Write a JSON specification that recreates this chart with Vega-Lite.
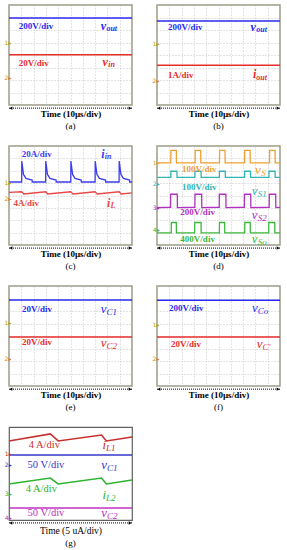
{
"$schema":"https://vega.github.io/schema/vega-lite/v6.json",
"padding":{"left":3,"top":4,"right":0,"bottom":0},
"background":"white",
"config":{
 "view":{"stroke":"#9c9c84","strokeWidth":1.5},
 "axis":{"grid":true,"gridColor":"#b8b8b8","gridDash":[1,2],"gridWidth":0.8,"labels":false,"ticks":false,"domain":false,"titleFont":"Liberation Serif","titleFontWeight":"bold","titleFontSize":9,"titleColor":"#000","titlePadding":4},
 "title":{"orient":"bottom","font":"Liberation Serif","fontSize":9,"fontWeight":"normal","color":"#000","offset":4,"anchor":"middle"}
},
"datasets":{
 "arrow":[{"x":0,"x2":10,"y":-0.25}],
 "ends":[{"x":0.15,"y":-0.25,"e":"l"},{"x":9.85,"y":-0.25,"e":"r"}],
 "tr":[
  {"p":"a","s":"vout","x":0,"y":6.96},{"p":"a","s":"vout","x":10,"y":6.96},
  {"p":"a","s":"vin","x":0,"y":4.02},{"p":"a","s":"vin","x":10,"y":4.02},
  {"p":"b","s":"vout","x":0,"y":6.72},{"p":"b","s":"vout","x":10,"y":6.72},
  {"p":"b","s":"iout","x":0,"y":3.18},{"p":"b","s":"iout","x":10,"y":3.18},
  {"p":"c","s":"iin","x":0,"y":5.09},{"p":"c","s":"iin","x":1.03,"y":5.09},{"p":"c","s":"iin","x":1.04,"y":6.79},{"p":"c","s":"iin","x":1.18,"y":5.7},{"p":"c","s":"iin","x":1.38,"y":5.38},{"p":"c","s":"iin","x":1.88,"y":5.25},{"p":"c","s":"iin","x":1.89,"y":5.09},
  {"p":"c","s":"iin","x":2.98,"y":5.09},{"p":"c","s":"iin","x":2.99,"y":6.79},{"p":"c","s":"iin","x":3.13,"y":5.7},{"p":"c","s":"iin","x":3.33,"y":5.38},{"p":"c","s":"iin","x":3.83,"y":5.25},{"p":"c","s":"iin","x":3.84,"y":5.09},
  {"p":"c","s":"iin","x":5.02,"y":5.09},{"p":"c","s":"iin","x":5.03,"y":6.79},{"p":"c","s":"iin","x":5.17,"y":5.7},{"p":"c","s":"iin","x":5.37,"y":5.38},{"p":"c","s":"iin","x":5.87,"y":5.25},{"p":"c","s":"iin","x":5.88,"y":5.09},
  {"p":"c","s":"iin","x":7.0,"y":5.09},{"p":"c","s":"iin","x":7.01,"y":6.79},{"p":"c","s":"iin","x":7.15,"y":5.7},{"p":"c","s":"iin","x":7.35,"y":5.38},{"p":"c","s":"iin","x":7.85,"y":5.25},{"p":"c","s":"iin","x":7.86,"y":5.09},
  {"p":"c","s":"iin","x":8.95,"y":5.09},{"p":"c","s":"iin","x":8.96,"y":6.79},{"p":"c","s":"iin","x":9.1,"y":5.7},{"p":"c","s":"iin","x":9.3,"y":5.38},{"p":"c","s":"iin","x":9.8,"y":5.25},{"p":"c","s":"iin","x":9.81,"y":5.09},{"p":"c","s":"iin","x":10,"y":5.09},
  {"p":"c","s":"iL","x":0,"y":4.25},{"p":"c","s":"iL","x":1.03,"y":4.3},{"p":"c","s":"iL","x":1.2,"y":4.12},{"p":"c","s":"iL","x":2.98,"y":4.3},{"p":"c","s":"iL","x":3.15,"y":4.12},{"p":"c","s":"iL","x":5.02,"y":4.3},{"p":"c","s":"iL","x":5.2,"y":4.12},{"p":"c","s":"iL","x":7.0,"y":4.3},{"p":"c","s":"iL","x":7.17,"y":4.12},{"p":"c","s":"iL","x":8.95,"y":4.3},{"p":"c","s":"iL","x":9.12,"y":4.12},{"p":"c","s":"iL","x":10,"y":4.22},
  {"p":"d","s":"vS","x":0,"y":6.64},{"p":"d","s":"vS","x":1.12,"y":6.64},{"p":"d","s":"vS","x":1.13,"y":7.65},{"p":"d","s":"vS","x":1.57,"y":7.65},{"p":"d","s":"vS","x":1.58,"y":6.64},{"p":"d","s":"vS","x":3.1,"y":6.64},{"p":"d","s":"vS","x":3.11,"y":7.65},{"p":"d","s":"vS","x":3.55,"y":7.65},{"p":"d","s":"vS","x":3.56,"y":6.64},{"p":"d","s":"vS","x":5.08,"y":6.64},{"p":"d","s":"vS","x":5.09,"y":7.65},{"p":"d","s":"vS","x":5.53,"y":7.65},{"p":"d","s":"vS","x":5.54,"y":6.64},{"p":"d","s":"vS","x":7.12,"y":6.64},{"p":"d","s":"vS","x":7.13,"y":7.65},{"p":"d","s":"vS","x":7.57,"y":7.65},{"p":"d","s":"vS","x":7.58,"y":6.64},{"p":"d","s":"vS","x":9.15,"y":6.64},{"p":"d","s":"vS","x":9.16,"y":7.65},{"p":"d","s":"vS","x":9.6,"y":7.65},{"p":"d","s":"vS","x":9.61,"y":6.64},{"p":"d","s":"vS","x":10,"y":6.64},
  {"p":"d","s":"vS1","x":0,"y":5.47},{"p":"d","s":"vS1","x":1.12,"y":5.47},{"p":"d","s":"vS1","x":1.13,"y":5.96},{"p":"d","s":"vS1","x":1.62,"y":5.96},{"p":"d","s":"vS1","x":1.63,"y":5.47},{"p":"d","s":"vS1","x":3.08,"y":5.47},{"p":"d","s":"vS1","x":3.09,"y":5.96},{"p":"d","s":"vS1","x":3.58,"y":5.96},{"p":"d","s":"vS1","x":3.59,"y":5.47},{"p":"d","s":"vS1","x":5.07,"y":5.47},{"p":"d","s":"vS1","x":5.08,"y":5.96},{"p":"d","s":"vS1","x":5.55,"y":5.96},{"p":"d","s":"vS1","x":5.56,"y":5.47},{"p":"d","s":"vS1","x":7.12,"y":5.47},{"p":"d","s":"vS1","x":7.13,"y":5.96},{"p":"d","s":"vS1","x":7.6,"y":5.96},{"p":"d","s":"vS1","x":7.61,"y":5.47},{"p":"d","s":"vS1","x":9.1,"y":5.47},{"p":"d","s":"vS1","x":9.11,"y":5.96},{"p":"d","s":"vS1","x":9.6,"y":5.96},{"p":"d","s":"vS1","x":9.61,"y":5.47},{"p":"d","s":"vS1","x":10,"y":5.47},
  {"p":"d","s":"vS2","x":0,"y":3.02},{"p":"d","s":"vS2","x":1.1,"y":3.05},{"p":"d","s":"vS2","x":1.11,"y":4.1},{"p":"d","s":"vS2","x":1.65,"y":4.1},{"p":"d","s":"vS2","x":1.66,"y":3.02},{"p":"d","s":"vS2","x":3.08,"y":3.05},{"p":"d","s":"vS2","x":3.09,"y":4.1},{"p":"d","s":"vS2","x":3.63,"y":4.1},{"p":"d","s":"vS2","x":3.64,"y":3.02},{"p":"d","s":"vS2","x":5.06,"y":3.05},{"p":"d","s":"vS2","x":5.07,"y":4.1},{"p":"d","s":"vS2","x":5.6,"y":4.1},{"p":"d","s":"vS2","x":5.61,"y":3.02},{"p":"d","s":"vS2","x":7.1,"y":3.05},{"p":"d","s":"vS2","x":7.11,"y":4.1},{"p":"d","s":"vS2","x":7.62,"y":4.1},{"p":"d","s":"vS2","x":7.63,"y":3.02},{"p":"d","s":"vS2","x":9.12,"y":3.05},{"p":"d","s":"vS2","x":9.13,"y":4.1},{"p":"d","s":"vS2","x":9.65,"y":4.1},{"p":"d","s":"vS2","x":9.66,"y":3.02},{"p":"d","s":"vS2","x":10,"y":3.04},
  {"p":"d","s":"vSo","x":0,"y":0.98},{"p":"d","s":"vSo","x":1.16,"y":0.98},{"p":"d","s":"vSo","x":1.17,"y":1.82},{"p":"d","s":"vSo","x":1.57,"y":1.82},{"p":"d","s":"vSo","x":1.58,"y":0.98},{"p":"d","s":"vSo","x":3.06,"y":0.98},{"p":"d","s":"vSo","x":3.07,"y":1.82},{"p":"d","s":"vSo","x":3.58,"y":1.82},{"p":"d","s":"vSo","x":3.59,"y":0.98},{"p":"d","s":"vSo","x":5.07,"y":0.98},{"p":"d","s":"vSo","x":5.08,"y":1.82},{"p":"d","s":"vSo","x":5.5,"y":1.82},{"p":"d","s":"vSo","x":5.51,"y":0.98},{"p":"d","s":"vSo","x":7.13,"y":0.98},{"p":"d","s":"vSo","x":7.14,"y":1.82},{"p":"d","s":"vSo","x":7.58,"y":1.82},{"p":"d","s":"vSo","x":7.59,"y":0.98},{"p":"d","s":"vSo","x":9.08,"y":0.98},{"p":"d","s":"vSo","x":9.09,"y":1.82},{"p":"d","s":"vSo","x":9.57,"y":1.82},{"p":"d","s":"vSo","x":9.58,"y":0.98},{"p":"d","s":"vSo","x":10,"y":0.98},
  {"p":"e","s":"vC1","x":0,"y":6.88},{"p":"e","s":"vC1","x":10,"y":6.88},
  {"p":"e","s":"vC2","x":0,"y":3.92},{"p":"e","s":"vC2","x":10,"y":3.92},
  {"p":"f","s":"vCo","x":0,"y":6.86},{"p":"f","s":"vCo","x":10,"y":6.86},
  {"p":"f","s":"vCp","x":0,"y":3.92},{"p":"f","s":"vCp","x":10,"y":3.92},
  {"p":"g","s":"iL1g","x":0,"y":6.8},{"p":"g","s":"iL1g","x":3.36,"y":7.4},{"p":"g","s":"iL1g","x":4.0,"y":6.8},{"p":"g","s":"iL1g","x":7.52,"y":7.31},{"p":"g","s":"iL1g","x":7.92,"y":6.8},{"p":"g","s":"iL1g","x":10,"y":7.14},
  {"p":"g","s":"vC1g","x":0,"y":5.59},{"p":"g","s":"vC1g","x":10,"y":5.59},
  {"p":"g","s":"iL2g","x":0,"y":3.1},{"p":"g","s":"iL2g","x":3.36,"y":3.61},{"p":"g","s":"iL2g","x":4.0,"y":3.1},{"p":"g","s":"iL2g","x":7.52,"y":3.61},{"p":"g","s":"iL2g","x":7.92,"y":3.1},{"p":"g","s":"iL2g","x":10,"y":3.44},
  {"p":"g","s":"vC2g","x":0,"y":1.03},{"p":"g","s":"vC2g","x":10,"y":1.03}
 ],
 "lb":[
  {"p":"a","f":"bu","k":"u","s":"vout","x":0.8,"y":6.34,"t":"200V/div"},
  {"p":"a","f":"bi","k":"s","s":"vout","x":7.45,"y":6.34,"t":"v"},
  {"p":"a","f":"bi","k":"b","s":"vout","x":7.92,"y":6.1,"t":"out"},
  {"p":"a","f":"bu","k":"u","s":"vin","x":0.8,"y":3.38,"t":"20V/div"},
  {"p":"a","f":"bi","k":"s","s":"vin","x":7.6,"y":3.45,"t":"v"},
  {"p":"a","f":"bi","k":"b","s":"vin","x":8.07,"y":3.2,"t":"in"},
  {"p":"a","f":"ru","k":"m","s":"m1","x":-0.36,"y":4.96,"t":"1▸"},
  {"p":"a","f":"ru","k":"m","s":"m2","x":-0.36,"y":2.16,"t":"2▸"},
  {"p":"b","f":"bu","k":"u","s":"vout","x":0.9,"y":6.24,"t":"200V/div"},
  {"p":"b","f":"bi","k":"s","s":"vout","x":7.6,"y":6.24,"t":"v"},
  {"p":"b","f":"bi","k":"b","s":"vout","x":8.07,"y":6.0,"t":"out"},
  {"p":"b","f":"bu","k":"u","s":"iout","x":0.9,"y":2.4,"t":"1A/div"},
  {"p":"b","f":"bi","k":"s","s":"iout","x":7.8,"y":2.45,"t":"i"},
  {"p":"b","f":"bi","k":"b","s":"iout","x":8.07,"y":2.2,"t":"out"},
  {"p":"b","f":"ru","k":"m","s":"m1","x":-0.36,"y":4.88,"t":"1▸"},
  {"p":"b","f":"ru","k":"m","s":"m2","x":-0.36,"y":1.92,"t":"2▸"},
  {"p":"c","f":"bu","k":"u","s":"iin","x":1.03,"y":7.38,"t":"20A/div"},
  {"p":"c","f":"bi","k":"s","s":"iin","x":7.5,"y":7.38,"t":"i"},
  {"p":"c","f":"bi","k":"b","s":"iin","x":7.78,"y":7.13,"t":"in"},
  {"p":"c","f":"bu","k":"u","s":"iL","x":0.36,"y":3.42,"t":"4A/div"},
  {"p":"c","f":"bi","k":"s","s":"iL","x":7.97,"y":3.42,"t":"i"},
  {"p":"c","f":"bi","k":"b","s":"iL","x":8.25,"y":3.17,"t":"L"},
  {"p":"c","f":"ru","k":"m","s":"m1","x":-0.36,"y":5.0,"t":"1▸"},
  {"p":"c","f":"ru","k":"m","s":"m2","x":-0.36,"y":3.72,"t":"2▸"},
  {"p":"d","f":"bu","k":"u","s":"vS","x":2.03,"y":6.15,"t":"100V/div"},
  {"p":"d","f":"ri","k":"S","s":"vS","x":7.97,"y":6.04,"t":"v"},
  {"p":"d","f":"ri","k":"B","s":"vS","x":8.47,"y":5.8,"t":"S"},
  {"p":"d","f":"bu","k":"u","s":"vS1","x":2.03,"y":4.65,"t":"100V/div"},
  {"p":"d","f":"ri","k":"S","s":"vS1","x":7.7,"y":4.4,"t":"v"},
  {"p":"d","f":"ri","k":"B","s":"vS1","x":8.2,"y":4.16,"t":"S1"},
  {"p":"d","f":"bu","k":"u","s":"vS2","x":1.9,"y":2.64,"t":"200V/div"},
  {"p":"d","f":"ri","k":"S","s":"vS2","x":7.7,"y":2.45,"t":"v"},
  {"p":"d","f":"ri","k":"B","s":"vS2","x":8.2,"y":2.21,"t":"S2"},
  {"p":"d","f":"bu","k":"u","s":"vSo","x":1.9,"y":0.5,"t":"400V/div"},
  {"p":"d","f":"ri","k":"S","s":"vSo","x":7.7,"y":0.45,"t":"v"},
  {"p":"d","f":"ri","k":"B","s":"vSo","x":8.2,"y":0.23,"t":"So"},
  {"p":"d","f":"ru","k":"m","s":"vS","x":-0.34,"y":6.6,"t":"1▸"},
  {"p":"d","f":"ru","k":"m","s":"vS1","x":-0.34,"y":4.9,"t":"2▸"},
  {"p":"d","f":"ru","k":"m","s":"vS2","x":-0.34,"y":3.0,"t":"3▸"},
  {"p":"d","f":"ru","k":"m","s":"vSo","x":-0.34,"y":1.2,"t":"4▸"},
  {"p":"e","f":"bu","k":"u","s":"vC1","x":1.06,"y":6.18,"t":"20V/div"},
  {"p":"e","f":"ri","k":"S","s":"vC1","x":7.45,"y":6.18,"t":"v"},
  {"p":"e","f":"ri","k":"B","s":"vC1","x":7.93,"y":5.94,"t":"C1"},
  {"p":"e","f":"bu","k":"u","s":"vC2","x":1.06,"y":3.52,"t":"20V/div"},
  {"p":"e","f":"ri","k":"S","s":"vC2","x":7.45,"y":3.46,"t":"v"},
  {"p":"e","f":"ri","k":"B","s":"vC2","x":7.93,"y":3.22,"t":"C2"},
  {"p":"e","f":"ru","k":"m","s":"m1","x":-0.36,"y":5.06,"t":"1▸"},
  {"p":"e","f":"ru","k":"m","s":"m2","x":-0.36,"y":2.16,"t":"2▸"},
  {"p":"f","f":"bu","k":"u","s":"vCo","x":0.98,"y":6.26,"t":"200V/div"},
  {"p":"f","f":"ri","k":"S","s":"vCo","x":7.72,"y":6.26,"t":"v"},
  {"p":"f","f":"ri","k":"B","s":"vCo","x":8.2,"y":6.02,"t":"Co"},
  {"p":"f","f":"bu","k":"u","s":"vCp","x":1.14,"y":3.38,"t":"20V/div"},
  {"p":"f","f":"ri","k":"S","s":"vCp","x":8.1,"y":3.38,"t":"v"},
  {"p":"f","f":"ri","k":"B","s":"vCp","x":8.58,"y":3.14,"t":"C'"},
  {"p":"f","f":"ru","k":"m","s":"m1","x":-0.36,"y":4.88,"t":"1▸"},
  {"p":"f","f":"ru","k":"m","s":"m2","x":-0.36,"y":2.16,"t":"2▸"},
  {"p":"g","f":"ru","k":"U","s":"iL1g","x":1.6,"y":6.45,"t":"4 A/div"},
  {"p":"g","f":"ri","k":"S","s":"iL1g","x":7.6,"y":6.45,"t":"i"},
  {"p":"g","f":"ri","k":"B","s":"iL1g","x":7.88,"y":6.2,"t":"L1"},
  {"p":"g","f":"ru","k":"U","s":"vC1g","x":1.5,"y":4.73,"t":"50 V/div"},
  {"p":"g","f":"ri","k":"S","s":"vC1g","x":7.5,"y":4.73,"t":"v"},
  {"p":"g","f":"ri","k":"B","s":"vC1g","x":7.97,"y":4.49,"t":"C1"},
  {"p":"g","f":"ru","k":"U","s":"iL2g","x":1.36,"y":2.64,"t":"4 A/div"},
  {"p":"g","f":"ri","k":"S","s":"iL2g","x":7.6,"y":2.15,"t":"i"},
  {"p":"g","f":"ri","k":"B","s":"iL2g","x":7.88,"y":1.9,"t":"L2"},
  {"p":"g","f":"ru","k":"U","s":"vC2g","x":1.5,"y":0.58,"t":"50 V/div"},
  {"p":"g","f":"ri","k":"S","s":"vC2g","x":7.5,"y":0.58,"t":"v"},
  {"p":"g","f":"ri","k":"B","s":"vC2g","x":7.97,"y":0.34,"t":"C2"},
  {"p":"g","f":"ru","k":"m","s":"iL1g","x":-0.34,"y":5.68,"t":"1▸"},
  {"p":"g","f":"ru","k":"m","s":"vC1g","x":-0.34,"y":4.73,"t":"2▸"},
  {"p":"g","f":"ru","k":"m","s":"iL2g","x":-0.34,"y":2.24,"t":"3▸"},
  {"p":"g","f":"ru","k":"m","s":"vC2g","x":-0.34,"y":0.17,"t":"4▸"}
 ]
},
"columns":2,
"spacing":{"row":41,"column":25},
"bounds":"flush",
"concat":[
  {"width":123,"height":100,"title":"(a)",
   "encoding":{"x":{"field":"x","type":"quantitative","scale":{"domain":[0,10]},"axis":{"values":[0,1,2,3,4,5,6,7,8,9,10],"title":"Time (10µs/div)"}},"y":{"field":"y","type":"quantitative","scale":{"domain":[0,8]},"axis":{"values":[0,1,2,3,4,5,6,7,8],"title":null}}},
   "layer":[
   {"data":{"name":"tr"},"transform":[{"filter":"datum.p=='a'"}],"mark":{"type":"line","strokeWidth":1.5},
    "encoding":{"color":{"field":"s","type":"nominal","legend":null,"scale":{"domain":["vout","vin","iout","iin","iL","vS","vS1","vS2","vSo","vC1","vC2","vCo","vCp","iL1g","vC1g","iL2g","vC2g","m1","m2"],"range":["#2a2af0","#e82c2c","#e82c2c","#3c3cf0","#e84848","#f0a030","#30b4b4","#b030c0","#3cb83c","#2a2af0","#e82c2c","#2a2af0","#e82c2c","#c8302c","#3636c8","#2eb42e","#c030c0","#b8a000","#e87820"]}}}},
   {"data":{"name":"arrow"},"mark":{"type":"rule","strokeDash":[1,1],"strokeWidth":1,"color":"#000"},"encoding":{"x2":{"field":"x2"}}},
   {"data":{"name":"ends"},"mark":{"type":"point","filled":true,"size":12,"color":"#000","opacity":1},"encoding":{"shape":{"field":"e","type":"nominal","legend":null,"scale":{"domain":["l","r"],"range":["triangle-left","triangle-right"]}}}},
   {"data":{"name":"lb"},"transform":[{"filter":"datum.p=='a' && datum.f=='bu'"}],"mark":{"type":"text","font":"Liberation Serif","fontWeight":"bold","align":"left","baseline":"middle"},"encoding":{"text":{"field":"t"},"color":{"field":"s","type":"nominal","legend":null},"size":{"field":"k","type":"nominal","legend":null,"scale":{"type":"ordinal","domain":["u","U","s","S","b","B","m"],"range":[9,10.5,12,13,8,9,6]}}}},
   {"data":{"name":"lb"},"transform":[{"filter":"datum.p=='a' && datum.f=='bi'"}],"mark":{"type":"text","font":"Liberation Serif","fontWeight":"bold","fontStyle":"italic","align":"left","baseline":"middle"},"encoding":{"text":{"field":"t"},"color":{"field":"s","type":"nominal","legend":null},"size":{"field":"k","type":"nominal","legend":null,"scale":{"type":"ordinal","domain":["u","U","s","S","b","B","m"],"range":[9,10.5,12,13,8,9,6]}}}},
   {"data":{"name":"lb"},"transform":[{"filter":"datum.p=='a' && datum.f=='ru'"}],"mark":{"type":"text","font":"DejaVu Sans","align":"left","baseline":"middle"},"encoding":{"text":{"field":"t"},"color":{"field":"s","type":"nominal","legend":null},"size":{"field":"k","type":"nominal","legend":null,"scale":{"type":"ordinal","domain":["u","U","s","S","b","B","m"],"range":[9,10.5,12,13,8,9,6]}}}}
  ]},
  {"width":123,"height":100,"title":"(b)",
   "encoding":{"x":{"field":"x","type":"quantitative","scale":{"domain":[0,10]},"axis":{"values":[0,1,2,3,4,5,6,7,8,9,10],"title":"Time (10µs/div)"}},"y":{"field":"y","type":"quantitative","scale":{"domain":[0,8]},"axis":{"values":[0,1,2,3,4,5,6,7,8],"title":null}}},
   "layer":[
   {"data":{"name":"tr"},"transform":[{"filter":"datum.p=='b'"}],"mark":{"type":"line","strokeWidth":1.5},
    "encoding":{"color":{"field":"s","type":"nominal","legend":null,"scale":{"domain":["vout","vin","iout","iin","iL","vS","vS1","vS2","vSo","vC1","vC2","vCo","vCp","iL1g","vC1g","iL2g","vC2g","m1","m2"],"range":["#2a2af0","#e82c2c","#e82c2c","#3c3cf0","#e84848","#f0a030","#30b4b4","#b030c0","#3cb83c","#2a2af0","#e82c2c","#2a2af0","#e82c2c","#c8302c","#3636c8","#2eb42e","#c030c0","#b8a000","#e87820"]}}}},
   {"data":{"name":"arrow"},"mark":{"type":"rule","strokeDash":[1,1],"strokeWidth":1,"color":"#000"},"encoding":{"x2":{"field":"x2"}}},
   {"data":{"name":"ends"},"mark":{"type":"point","filled":true,"size":12,"color":"#000","opacity":1},"encoding":{"shape":{"field":"e","type":"nominal","legend":null,"scale":{"domain":["l","r"],"range":["triangle-left","triangle-right"]}}}},
   {"data":{"name":"lb"},"transform":[{"filter":"datum.p=='b' && datum.f=='bu'"}],"mark":{"type":"text","font":"Liberation Serif","fontWeight":"bold","align":"left","baseline":"middle"},"encoding":{"text":{"field":"t"},"color":{"field":"s","type":"nominal","legend":null},"size":{"field":"k","type":"nominal","legend":null,"scale":{"type":"ordinal","domain":["u","U","s","S","b","B","m"],"range":[9,10.5,12,13,8,9,6]}}}},
   {"data":{"name":"lb"},"transform":[{"filter":"datum.p=='b' && datum.f=='bi'"}],"mark":{"type":"text","font":"Liberation Serif","fontWeight":"bold","fontStyle":"italic","align":"left","baseline":"middle"},"encoding":{"text":{"field":"t"},"color":{"field":"s","type":"nominal","legend":null},"size":{"field":"k","type":"nominal","legend":null,"scale":{"type":"ordinal","domain":["u","U","s","S","b","B","m"],"range":[9,10.5,12,13,8,9,6]}}}},
   {"data":{"name":"lb"},"transform":[{"filter":"datum.p=='b' && datum.f=='ru'"}],"mark":{"type":"text","font":"DejaVu Sans","align":"left","baseline":"middle"},"encoding":{"text":{"field":"t"},"color":{"field":"s","type":"nominal","legend":null},"size":{"field":"k","type":"nominal","legend":null,"scale":{"type":"ordinal","domain":["u","U","s","S","b","B","m"],"range":[9,10.5,12,13,8,9,6]}}}}
  ]},
  {"width":123,"height":99,"title":"(c)",
   "encoding":{"x":{"field":"x","type":"quantitative","scale":{"domain":[0,10]},"axis":{"values":[0,1,2,3,4,5,6,7,8,9,10],"title":"Time (10µs/div)"}},"y":{"field":"y","type":"quantitative","scale":{"domain":[0,8]},"axis":{"values":[0,1,2,3,4,5,6,7,8],"title":null}}},
   "layer":[
   {"data":{"name":"tr"},"transform":[{"filter":"datum.p=='c'"}],"mark":{"type":"line","strokeWidth":1.3},
    "encoding":{"color":{"field":"s","type":"nominal","legend":null,"scale":{"domain":["vout","vin","iout","iin","iL","vS","vS1","vS2","vSo","vC1","vC2","vCo","vCp","iL1g","vC1g","iL2g","vC2g","m1","m2"],"range":["#2a2af0","#e82c2c","#e82c2c","#3c3cf0","#e84848","#f0a030","#30b4b4","#b030c0","#3cb83c","#2a2af0","#e82c2c","#2a2af0","#e82c2c","#c8302c","#3636c8","#2eb42e","#c030c0","#b8a000","#e87820"]}}}},
   {"data":{"name":"arrow"},"mark":{"type":"rule","strokeDash":[1,1],"strokeWidth":1,"color":"#000"},"encoding":{"x2":{"field":"x2"}}},
   {"data":{"name":"ends"},"mark":{"type":"point","filled":true,"size":12,"color":"#000","opacity":1},"encoding":{"shape":{"field":"e","type":"nominal","legend":null,"scale":{"domain":["l","r"],"range":["triangle-left","triangle-right"]}}}},
   {"data":{"name":"lb"},"transform":[{"filter":"datum.p=='c' && datum.f=='bu'"}],"mark":{"type":"text","font":"Liberation Serif","fontWeight":"bold","align":"left","baseline":"middle"},"encoding":{"text":{"field":"t"},"color":{"field":"s","type":"nominal","legend":null},"size":{"field":"k","type":"nominal","legend":null,"scale":{"type":"ordinal","domain":["u","U","s","S","b","B","m"],"range":[9,10.5,12,13,8,9,6]}}}},
   {"data":{"name":"lb"},"transform":[{"filter":"datum.p=='c' && datum.f=='bi'"}],"mark":{"type":"text","font":"Liberation Serif","fontWeight":"bold","fontStyle":"italic","align":"left","baseline":"middle"},"encoding":{"text":{"field":"t"},"color":{"field":"s","type":"nominal","legend":null},"size":{"field":"k","type":"nominal","legend":null,"scale":{"type":"ordinal","domain":["u","U","s","S","b","B","m"],"range":[9,10.5,12,13,8,9,6]}}}},
   {"data":{"name":"lb"},"transform":[{"filter":"datum.p=='c' && datum.f=='ru'"}],"mark":{"type":"text","font":"DejaVu Sans","align":"left","baseline":"middle"},"encoding":{"text":{"field":"t"},"color":{"field":"s","type":"nominal","legend":null},"size":{"field":"k","type":"nominal","legend":null,"scale":{"type":"ordinal","domain":["u","U","s","S","b","B","m"],"range":[9,10.5,12,13,8,9,6]}}}}
  ]},
  {"width":123,"height":99,"title":"(d)",
   "encoding":{"x":{"field":"x","type":"quantitative","scale":{"domain":[0,10]},"axis":{"values":[0,1,2,3,4,5,6,7,8,9,10],"title":"Time (10µs/div)"}},"y":{"field":"y","type":"quantitative","scale":{"domain":[0,8]},"axis":{"values":[0,1,2,3,4,5,6,7,8],"title":null}}},
   "layer":[
   {"data":{"name":"tr"},"transform":[{"filter":"datum.p=='d'"}],"mark":{"type":"line","strokeWidth":1.3},
    "encoding":{"color":{"field":"s","type":"nominal","legend":null,"scale":{"domain":["vout","vin","iout","iin","iL","vS","vS1","vS2","vSo","vC1","vC2","vCo","vCp","iL1g","vC1g","iL2g","vC2g","m1","m2"],"range":["#2a2af0","#e82c2c","#e82c2c","#3c3cf0","#e84848","#f0a030","#30b4b4","#b030c0","#3cb83c","#2a2af0","#e82c2c","#2a2af0","#e82c2c","#c8302c","#3636c8","#2eb42e","#c030c0","#b8a000","#e87820"]}}}},
   {"data":{"name":"arrow"},"mark":{"type":"rule","strokeDash":[1,1],"strokeWidth":1,"color":"#000"},"encoding":{"x2":{"field":"x2"}}},
   {"data":{"name":"ends"},"mark":{"type":"point","filled":true,"size":12,"color":"#000","opacity":1},"encoding":{"shape":{"field":"e","type":"nominal","legend":null,"scale":{"domain":["l","r"],"range":["triangle-left","triangle-right"]}}}},
   {"data":{"name":"lb"},"transform":[{"filter":"datum.p=='d' && datum.f=='bu'"}],"mark":{"type":"text","font":"Liberation Serif","fontWeight":"bold","align":"left","baseline":"middle"},"encoding":{"text":{"field":"t"},"color":{"field":"s","type":"nominal","legend":null},"size":{"field":"k","type":"nominal","legend":null,"scale":{"type":"ordinal","domain":["u","U","s","S","b","B","m"],"range":[9,10.5,12,13,8,9,6]}}}},
   {"data":{"name":"lb"},"transform":[{"filter":"datum.p=='d' && datum.f=='ri'"}],"mark":{"type":"text","font":"Liberation Serif","fontStyle":"italic","align":"left","baseline":"middle"},"encoding":{"text":{"field":"t"},"color":{"field":"s","type":"nominal","legend":null},"size":{"field":"k","type":"nominal","legend":null,"scale":{"type":"ordinal","domain":["u","U","s","S","b","B","m"],"range":[9,10.5,12,13,8,9,6]}}}},
   {"data":{"name":"lb"},"transform":[{"filter":"datum.p=='d' && datum.f=='ru'"}],"mark":{"type":"text","font":"DejaVu Sans","align":"left","baseline":"middle"},"encoding":{"text":{"field":"t"},"color":{"field":"s","type":"nominal","legend":null},"size":{"field":"k","type":"nominal","legend":null,"scale":{"type":"ordinal","domain":["u","U","s","S","b","B","m"],"range":[9,10.5,12,13,8,9,6]}}}}
  ]},
  {"width":123,"height":100,"title":"(e)",
   "encoding":{"x":{"field":"x","type":"quantitative","scale":{"domain":[0,10]},"axis":{"values":[0,1,2,3,4,5,6,7,8,9,10],"title":"Time (10µs/div)"}},"y":{"field":"y","type":"quantitative","scale":{"domain":[0,8]},"axis":{"values":[0,1,2,3,4,5,6,7,8],"title":null}}},
   "layer":[
   {"data":{"name":"tr"},"transform":[{"filter":"datum.p=='e'"}],"mark":{"type":"line","strokeWidth":1.5},
    "encoding":{"color":{"field":"s","type":"nominal","legend":null,"scale":{"domain":["vout","vin","iout","iin","iL","vS","vS1","vS2","vSo","vC1","vC2","vCo","vCp","iL1g","vC1g","iL2g","vC2g","m1","m2"],"range":["#2a2af0","#e82c2c","#e82c2c","#3c3cf0","#e84848","#f0a030","#30b4b4","#b030c0","#3cb83c","#2a2af0","#e82c2c","#2a2af0","#e82c2c","#c8302c","#3636c8","#2eb42e","#c030c0","#b8a000","#e87820"]}}}},
   {"data":{"name":"arrow"},"mark":{"type":"rule","strokeDash":[1,1],"strokeWidth":1,"color":"#000"},"encoding":{"x2":{"field":"x2"}}},
   {"data":{"name":"ends"},"mark":{"type":"point","filled":true,"size":12,"color":"#000","opacity":1},"encoding":{"shape":{"field":"e","type":"nominal","legend":null,"scale":{"domain":["l","r"],"range":["triangle-left","triangle-right"]}}}},
   {"data":{"name":"lb"},"transform":[{"filter":"datum.p=='e' && datum.f=='bu'"}],"mark":{"type":"text","font":"Liberation Serif","fontWeight":"bold","align":"left","baseline":"middle"},"encoding":{"text":{"field":"t"},"color":{"field":"s","type":"nominal","legend":null},"size":{"field":"k","type":"nominal","legend":null,"scale":{"type":"ordinal","domain":["u","U","s","S","b","B","m"],"range":[9,10.5,12,13,8,9,6]}}}},
   {"data":{"name":"lb"},"transform":[{"filter":"datum.p=='e' && datum.f=='ri'"}],"mark":{"type":"text","font":"Liberation Serif","fontStyle":"italic","align":"left","baseline":"middle"},"encoding":{"text":{"field":"t"},"color":{"field":"s","type":"nominal","legend":null},"size":{"field":"k","type":"nominal","legend":null,"scale":{"type":"ordinal","domain":["u","U","s","S","b","B","m"],"range":[9,10.5,12,13,8,9,6]}}}},
   {"data":{"name":"lb"},"transform":[{"filter":"datum.p=='e' && datum.f=='ru'"}],"mark":{"type":"text","font":"DejaVu Sans","align":"left","baseline":"middle"},"encoding":{"text":{"field":"t"},"color":{"field":"s","type":"nominal","legend":null},"size":{"field":"k","type":"nominal","legend":null,"scale":{"type":"ordinal","domain":["u","U","s","S","b","B","m"],"range":[9,10.5,12,13,8,9,6]}}}}
  ]},
  {"width":123,"height":100,"title":"(f)",
   "encoding":{"x":{"field":"x","type":"quantitative","scale":{"domain":[0,10]},"axis":{"values":[0,1,2,3,4,5,6,7,8,9,10],"title":"Time (10µs/div)"}},"y":{"field":"y","type":"quantitative","scale":{"domain":[0,8]},"axis":{"values":[0,1,2,3,4,5,6,7,8],"title":null}}},
   "layer":[
   {"data":{"name":"tr"},"transform":[{"filter":"datum.p=='f'"}],"mark":{"type":"line","strokeWidth":1.5},
    "encoding":{"color":{"field":"s","type":"nominal","legend":null,"scale":{"domain":["vout","vin","iout","iin","iL","vS","vS1","vS2","vSo","vC1","vC2","vCo","vCp","iL1g","vC1g","iL2g","vC2g","m1","m2"],"range":["#2a2af0","#e82c2c","#e82c2c","#3c3cf0","#e84848","#f0a030","#30b4b4","#b030c0","#3cb83c","#2a2af0","#e82c2c","#2a2af0","#e82c2c","#c8302c","#3636c8","#2eb42e","#c030c0","#b8a000","#e87820"]}}}},
   {"data":{"name":"arrow"},"mark":{"type":"rule","strokeDash":[1,1],"strokeWidth":1,"color":"#000"},"encoding":{"x2":{"field":"x2"}}},
   {"data":{"name":"ends"},"mark":{"type":"point","filled":true,"size":12,"color":"#000","opacity":1},"encoding":{"shape":{"field":"e","type":"nominal","legend":null,"scale":{"domain":["l","r"],"range":["triangle-left","triangle-right"]}}}},
   {"data":{"name":"lb"},"transform":[{"filter":"datum.p=='f' && datum.f=='bu'"}],"mark":{"type":"text","font":"Liberation Serif","fontWeight":"bold","align":"left","baseline":"middle"},"encoding":{"text":{"field":"t"},"color":{"field":"s","type":"nominal","legend":null},"size":{"field":"k","type":"nominal","legend":null,"scale":{"type":"ordinal","domain":["u","U","s","S","b","B","m"],"range":[9,10.5,12,13,8,9,6]}}}},
   {"data":{"name":"lb"},"transform":[{"filter":"datum.p=='f' && datum.f=='ri'"}],"mark":{"type":"text","font":"Liberation Serif","fontStyle":"italic","align":"left","baseline":"middle"},"encoding":{"text":{"field":"t"},"color":{"field":"s","type":"nominal","legend":null},"size":{"field":"k","type":"nominal","legend":null,"scale":{"type":"ordinal","domain":["u","U","s","S","b","B","m"],"range":[9,10.5,12,13,8,9,6]}}}},
   {"data":{"name":"lb"},"transform":[{"filter":"datum.p=='f' && datum.f=='ru'"}],"mark":{"type":"text","font":"DejaVu Sans","align":"left","baseline":"middle"},"encoding":{"text":{"field":"t"},"color":{"field":"s","type":"nominal","legend":null},"size":{"field":"k","type":"nominal","legend":null,"scale":{"type":"ordinal","domain":["u","U","s","S","b","B","m"],"range":[9,10.5,12,13,8,9,6]}}}}
  ]},
  {"width":123,"height":93,"title":"(g)","view":{"stroke":"#606060","strokeWidth":1.2},
   "encoding":{"x":{"field":"x","type":"quantitative","scale":{"domain":[0,10]},"axis":{"grid":false,"title":"Time (5 uA/div)","titleFontWeight":"normal","titleFontSize":9.5,"titlePadding":5}},"y":{"field":"y","type":"quantitative","scale":{"domain":[0,8]},"axis":{"grid":false,"title":null}}},
   "layer":[
   {"data":{"name":"tr"},"transform":[{"filter":"datum.p=='g'"}],"mark":{"type":"line","strokeWidth":1.6},
    "encoding":{"color":{"field":"s","type":"nominal","legend":null,"scale":{"domain":["vout","vin","iout","iin","iL","vS","vS1","vS2","vSo","vC1","vC2","vCo","vCp","iL1g","vC1g","iL2g","vC2g","m1","m2"],"range":["#2a2af0","#e82c2c","#e82c2c","#3c3cf0","#e84848","#f0a030","#30b4b4","#b030c0","#3cb83c","#2a2af0","#e82c2c","#2a2af0","#e82c2c","#c8302c","#3636c8","#2eb42e","#c030c0","#b8a000","#e87820"]}}}},
   {"data":{"name":"arrow"},"mark":{"type":"rule","strokeDash":[1,1],"strokeWidth":1,"color":"#000"},"encoding":{"x2":{"field":"x2"}}},
   {"data":{"name":"ends"},"mark":{"type":"point","filled":true,"size":12,"color":"#000","opacity":1},"encoding":{"shape":{"field":"e","type":"nominal","legend":null,"scale":{"domain":["l","r"],"range":["triangle-left","triangle-right"]}}}},
   {"data":{"name":"lb"},"transform":[{"filter":"datum.p=='g' && datum.f=='ru' && datum.k!='m'"}],"mark":{"type":"text","font":"Liberation Serif","align":"left","baseline":"middle"},"encoding":{"text":{"field":"t"},"color":{"field":"s","type":"nominal","legend":null},"size":{"field":"k","type":"nominal","legend":null,"scale":{"type":"ordinal","domain":["u","U","s","S","b","B","m"],"range":[9,10.5,12,13,8,9,6]}}}},
   {"data":{"name":"lb"},"transform":[{"filter":"datum.p=='g' && datum.f=='ri'"}],"mark":{"type":"text","font":"Liberation Serif","fontStyle":"italic","align":"left","baseline":"middle"},"encoding":{"text":{"field":"t"},"color":{"field":"s","type":"nominal","legend":null},"size":{"field":"k","type":"nominal","legend":null,"scale":{"type":"ordinal","domain":["u","U","s","S","b","B","m"],"range":[9,10.5,12,13,8,9,6]}}}},
   {"data":{"name":"lb"},"transform":[{"filter":"datum.p=='g' && datum.k=='m'"}],"mark":{"type":"text","font":"DejaVu Sans","align":"left","baseline":"middle"},"encoding":{"text":{"field":"t"},"color":{"field":"s","type":"nominal","legend":null},"size":{"field":"k","type":"nominal","legend":null,"scale":{"type":"ordinal","domain":["u","U","s","S","b","B","m"],"range":[9,10.5,12,13,8,9,6]}}}}
  ]}
]
}
